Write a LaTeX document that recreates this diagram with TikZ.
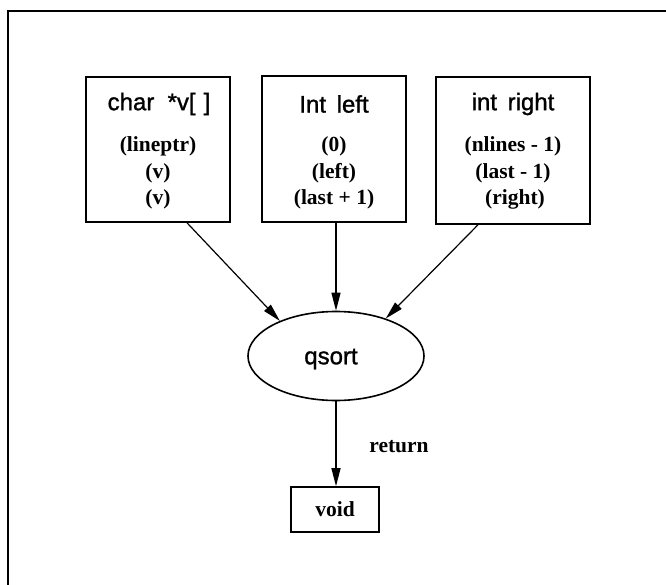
\documentclass[tikz,border=0pt]{standalone}
\usepackage{fontspec}
\setmainfont{Liberation Serif}
\newfontfamily\headfont[BoldFont={Liberation Sans},BoldFeatures={FakeBold=1.2}]{Liberation Sans}
\usetikzlibrary{arrows.meta,shapes.geometric}

\begin{document}
\begin{tikzpicture}[x=1pt,y=-1pt,
    line width=1.6pt,
    argbox/.style={draw,rectangle,inner sep=0pt},
    head/.style={inner sep=0pt,anchor=center,font=\headfont\bfseries\fontsize{24}{28}\selectfont},
    val/.style={inner sep=0pt,anchor=center,font=\bfseries\fontsize{21.5}{25}\selectfont},
    flow/.style={-{Triangle[length=18pt,width=9pt]},line width=1.2pt}]
  \useasboundingbox (0,0) rectangle (666,585);

  % outer frame, open to the right and bottom
  \coordinate (fa) at (8,585);
  \coordinate (fb) at (8,11);
  \coordinate (fc) at (666,11);
  \draw[line width=1.8pt] (fa) -- (fb) -- (fc);

  % argument boxes
  \node[argbox,minimum width=144pt,minimum height=145pt] (b1) at (158,149.5) {};
  \node[argbox,minimum width=144pt,minimum height=146pt] (b2) at (334,149) {};
  \node[argbox,minimum width=154pt,minimum height=147pt] (b3) at (513,150.5) {};

  \node[head] (h1) at (159,104) {char\ \ *v[\,\,]};
  \node[val] (v11) at (158,146) {(lineptr)};
  \node[val] (v12) at (158,173) {(v)};
  \node[val] (v13) at (158,199) {(v)};

  \node[head] (h2) at (334,104) {Int\ \,left};
  \node[val] (v21) at (334,146) {(0)};
  \node[val] (v22) at (334,173) {(left)};
  \node[val] (v23) at (334,199) {(last + 1)};

  \node[head] (h3) at (513,104) {int\ \,right};
  \node[val] (v31) at (513,146) {(nlines - 1)};
  \node[val] (v32) at (513,173) {(last - 1)};
  \node[val] (v33) at (515,199) {(right)};

  % function and result
  \node[draw,ellipse,minimum width=176pt,minimum height=89pt,inner sep=0pt] (q) at (336,356) {};
  \node[head] (qt) at (331,359) {qsort};
  \node[argbox,minimum width=88pt,minimum height=45pt] (vd) at (335,509.5) {};
  \node[val] (vt) at (335,509) {void};
  \node[val] (rt) at (399,447) {return};

  % connectors
  \draw[flow] ([xshift=29pt]b1.south) -- (q.148);
  \draw[flow] (b2.south -| q.north) -- (q.north);
  \draw[flow] ([xshift=-35pt]b3.south) -- (q.37);
  \draw[flow] (q.south) -- (q.south |- vd.north);
\end{tikzpicture}
\end{document}
